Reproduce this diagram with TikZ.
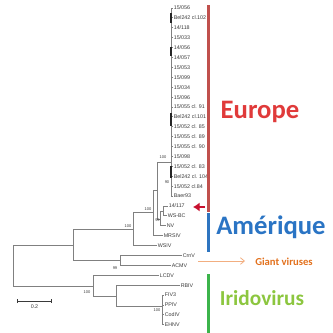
\documentclass[tikz,border=0pt]{standalone}
\usepackage{fontspec}
\setmainfont{Liberation Sans}
\newfontfamily\calibfont{Carlito}
\usetikzlibrary{arrows.meta}

\definecolor{treegrey}{HTML}{808080}
\definecolor{leafgrey}{HTML}{3A3A3A}
\definecolor{barred}{HTML}{C0504D}
\definecolor{barblue}{HTML}{2E75C0}
\definecolor{bargreen}{HTML}{3CB44B}
\definecolor{eutext}{HTML}{E03A3A}
\definecolor{amtext}{HTML}{2A74C4}
\definecolor{iritext}{HTML}{8CC63F}
\definecolor{gianttext}{HTML}{E2701C}
\definecolor{giantline}{HTML}{F2AE80}
\definecolor{markred}{HTML}{C8102E}

\begin{document}
\begin{tikzpicture}[x=0.75pt,y=-0.75pt,
    leaf/.style={anchor=west,inner sep=0.4pt,text=leafgrey,font=\fontsize{4}{4}\selectfont},
    boot/.style={inner sep=0pt,text=leafgrey,font=\fontsize{3}{3}\selectfont},
    branch/.style={draw=treegrey,line width=0.7pt},
    shortseg/.style={draw=black!85,line width=1.4pt},
    region/.style={font=\calibfont\bfseries\fontsize{20}{20}\selectfont}]

  \useasboundingbox (0,0) rectangle (333,333);

  % internal nodes
  \coordinate (root) at (13,265);
  \coordinate (a) at (73,245);
  \coordinate (b) at (133,229);
  \coordinate (c) at (153,212);
  \coordinate (d) at (157,190);
  \coordinate (e) at (171,162);
  \coordinate (f) at (160,219);
  \coordinate (g) at (163,211);
  \coordinate (h) at (120,260.5);
  \coordinate (i) at (93,286);
  \coordinate (j) at (116,296);
  \coordinate (k) at (162,306);

  % European isolates
  \foreach \name [count=\n from 0] in {15/056,Bel242 cl.102,14/118,15/033,14/056,14/057,
      15/053,15/099,15/034,15/096,15/055 cl. 91,Bel242 cl.101,15/052 cl. 85,15/055 cl. 89,
      15/055 cl. 90,15/098,15/052 cl. 83,Bel242 cl. 104,15/052 cl.84,Baer93}
  {
    \node[leaf] (eu\n) at (173,8+9.9*\n) {\name};
    \draw[branch] (e |- eu\n) -- (eu\n.west);
  }
  \draw[branch] (e |- eu0) -- (e |- eu19);
  \foreach \ya/\yb in {13/23,47/56,113/126,166/178}
    \draw[shortseg] (171,\ya) -- (171,\yb);

  % other leaves
  \node[leaf] (v14117) at (168,206) {14/117};
  \node[leaf] (wsbc) at (167,215.9) {WS-BC};
  \node[leaf] (nv) at (166,225.8) {NV};
  \node[leaf] (mrsiv) at (163,235.7) {MRSIV};
  \node[leaf] (wsiv) at (157,245.6) {WSIV};
  \node[leaf] (crnv) at (182,255.5) {CrnV};
  \node[leaf] (acmv) at (171,265.4) {ACMV};
  \node[leaf] (lcdv) at (159,275.3) {LCDV};
  \node[leaf] (rbiv) at (180,285.2) {RBIV};
  \node[leaf] (fiv) at (164,295.1) {FIV3};
  \node[leaf] (ppiv) at (164,305) {PPIV};
  \node[leaf] (codiv) at (164,314.9) {CodIV};
  \node[leaf] (ehnv) at (164,324.8) {EHNV};

  % branches
  \draw[branch] (root) |- (a);
  \draw[branch] (root) |- (i);
  \draw[branch] (a) |- (b);
  \draw[branch] (a) |- (h);
  \draw[branch] (b) |- (c);
  \draw[branch] (b) |- (wsiv.west);
  \draw[branch] (c) |- (d);
  \draw[branch] (c) |- (mrsiv.west);
  \draw[branch] (d) |- (e);
  \draw[branch] (d) |- (f);
  \draw[branch] (f) |- (g);
  \draw[branch] (f) |- (nv.west);
  \draw[branch] (g) |- (v14117.west);
  \draw[branch] (g) |- (wsbc.west);
  \draw[branch] (h) |- (crnv.west);
  \draw[branch] (h) |- (acmv.west);
  \draw[branch] (i) |- (lcdv.west);
  \draw[branch] (i) |- (j);
  \draw[branch] (j) |- (rbiv.west);
  \draw[branch] (j) |- (k);
  \draw[branch] (k) |- (fiv.west);
  \draw[branch] (k) |- (ppiv.west);
  \draw[branch] (k) |- (codiv.west);
  \draw[branch] (k) |- (ehnv.west);

  % bootstrap values
  \node[boot] (bs-b) at (128,226) {100};
  \node[boot] (bs-c) at (148,209) {100};
  \node[boot] (bs-e) at (163,157) {100};
  \node[boot] (bs-eu) at (167,182) {90};
  \node[boot] (bs-f) at (157.5,220) {99};
  \node[boot] (bs-h) at (115,268) {99};
  \node[boot] (bs-i) at (87,292) {100};
  \node[boot] (bs-k) at (157,310) {100};

  % scale bar
  \coordinate (sb1) at (17,301);
  \coordinate (sb2) at (52,301);
  \draw[draw=leafgrey,line width=0.6pt,{Bar[width=3pt]}-{Bar[width=3pt]}] (sb1) -- (sb2);
  \node[boot,font=\fontsize{4}{4}\selectfont] (sblabel) at (34.5,306.5) {0.2};

  % origin bars
  \fill[barred] (206.5,5) rectangle (209.5,212);
  \fill[barblue] (206.5,213) rectangle (209.5,252);
  \fill[bargreen] (206.5,274) rectangle (209.5,333);

  % group names
  \node[region,text=eutext] (europe) at (260,112) {Europe};
  \node[region,text=amtext] (amerique) at (271,227) {Amérique};
  \node[region,text=iritext,font=\calibfont\bfseries\fontsize{16}{16}\selectfont] (irido) at (262,298) {Iridovirus};
  \node[text=gianttext,font=\calibfont\bfseries\fontsize{8}{8}\selectfont] (giant) at (284,262) {Giant viruses};

  \coordinate (gvstart) at (198,261);
  \coordinate (gvend) at (245,261);
  \draw[giantline,line width=0.6pt,-{Straight Barb[length=3pt,width=5pt]}] (gvstart) -- (gvend);

  \coordinate (marktail) at (205,207);
  \coordinate (markhead) at (193,207);
  \draw[markred,line width=1.6pt,-{Latex[length=5pt,width=7pt]}] (marktail) -- (markhead);
\end{tikzpicture}
\end{document}
